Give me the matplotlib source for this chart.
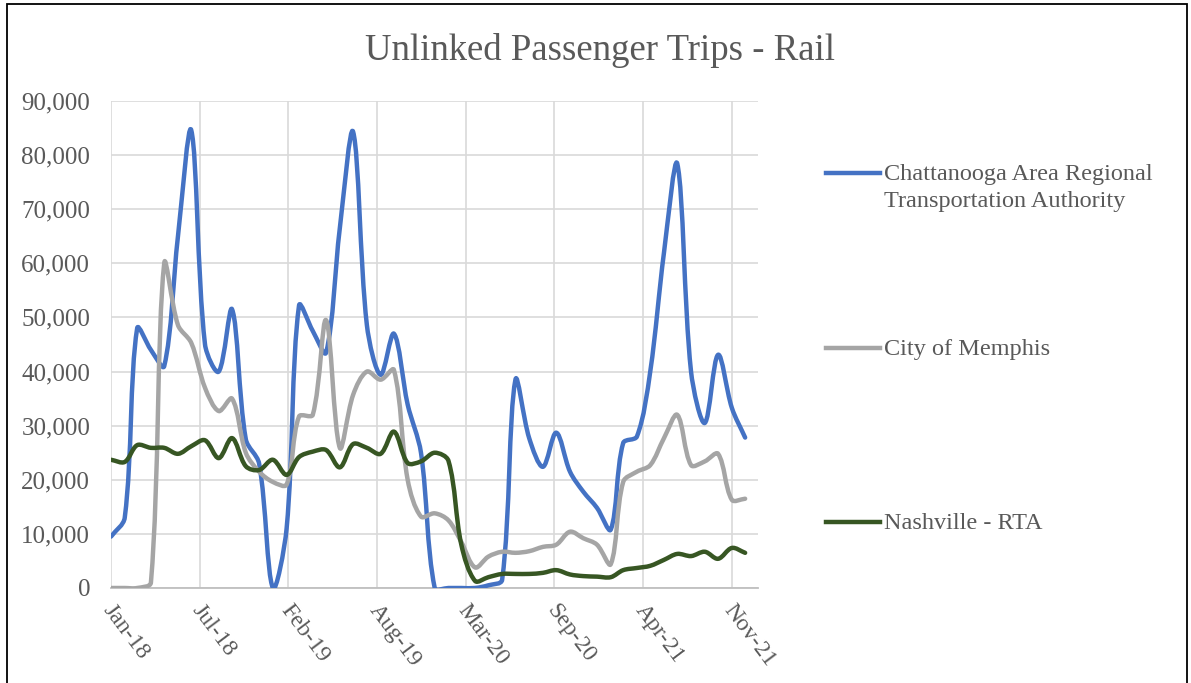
import matplotlib as mpl
mpl.use('Agg')
import matplotlib.pyplot as plt
import matplotlib.dates as mdates
from matplotlib.path import Path
from matplotlib.patches import PathPatch, Rectangle
from matplotlib.lines import Line2D
import numpy as np
import pandas as pd

# monthly unlinked passenger trips (thousands), Jan-18 .. Dec-21
months = pd.date_range('2018-01-01', '2021-12-01', freq='MS')

chattanooga = [9.5, 13, 48, 44, 41, 65, 84.6, 45, 40, 51.5, 27.5, 23,
               0, 11, 52.2, 47.5, 43.5, 66.5, 84.3, 48.6, 39.4, 47, 33.9, 25,
               0, 0, 0, 0, 0.5, 1.5, 38.5, 27.7, 22.4, 28.7, 21.5, 17.8,
               14.8, 10.8, 26.8, 28, 40, 62, 78.4, 40, 30.5, 43.1, 33.3, 27.8]
memphis = [0, 0, 0, 1, 60, 48.6, 45.3, 37, 32.7, 35, 25, 21.5,
           19.6, 19.1, 31.7, 32, 49.5, 25.9, 35.7, 40, 38.5, 40.3, 20, 13.2,
           13.8, 12.5, 8.5, 3.8, 5.8, 6.7, 6.5, 6.8, 7.6, 8, 10.4, 9.2,
           8, 4.4, 19.6, 21.5, 22.7, 27.7, 32, 22.7, 23.4, 24.8, 16.3, 16.5]
nashville = [23.7, 23.3, 26.4, 25.9, 25.9, 24.8, 26.2, 27.3, 24, 27.7, 22.5, 21.8,
             23.7, 20.9, 24.2, 25.2, 25.5, 22.3, 26.6, 25.9, 24.8, 28.9, 23.1, 23.4,
             25, 23.5, 8, 1.3, 2, 2.6, 2.6, 2.6, 2.8, 3.3, 2.5, 2.2,
             2.1, 2.0, 3.3, 3.7, 4.1, 5.2, 6.3, 5.9, 6.7, 5.4, 7.4, 6.5]

labels = ['Chattanooga Area Regional\nTransportation Authority',
          'City of Memphis', 'Nashville - RTA']
colors = ['#4472C4', '#A5A5A5', '#375623']
series = [chattanooga, memphis, nashville]

FONT = 'Liberation Serif'
TXT = '#595959'


def smooth_path(ax, xs, ys):
    # excel-like smoothed line, built in screen space so tangents
    # scale with the neighbouring segment lengths
    P = ax.transData.transform(np.column_stack([xs, ys]))
    n = len(P)
    verts = [P[0]]
    codes = [Path.MOVETO]
    for i in range(n - 1):
        p0, p1 = P[max(i - 1, 0)], P[i]
        p2, p3 = P[i + 1], P[min(i + 2, n - 1)]
        d01 = np.hypot(*(p1 - p0))
        d12 = np.hypot(*(p2 - p1))
        d23 = np.hypot(*(p3 - p2))
        t1 = p2 - p0
        t2 = p3 - p1
        s1 = d12 / (d01 + d12) if d01 + d12 > 0 else 0
        s2 = d12 / (d12 + d23) if d12 + d23 > 0 else 0
        c1 = p1 + t1 * s1 / 3
        c2 = p2 - t2 * s2 / 3
        verts += [c1, c2, p2]
        codes += [Path.CURVE4] * 3
    verts = ax.transData.inverted().transform(np.array(verts))
    return Path(verts, codes)


fig = plt.figure(figsize=(11.91, 6.83), dpi=100)
ax = fig.add_axes([111 / 1191, 1 - 588 / 683, 647 / 1191, 487 / 683])

x = mdates.date2num(months.to_pydatetime())
x0 = x[0]
ax.set_xlim(x0, x0 + 1459)
ax.set_ylim(0, 90000)

for vals, col in zip(series, colors):
    ys = [v * 1000 for v in vals]
    ax.add_patch(PathPatch(smooth_path(ax, x, ys), fill=False, ec=col, lw=3.2,
                           capstyle='round', joinstyle='round', zorder=3))

ax.set_xticks([x0 + 200 * k for k in range(8)])
ax.xaxis.set_major_formatter(mdates.DateFormatter('%b-%y'))
ax.set_yticks(range(0, 90001, 10000))
ax.yaxis.set_major_formatter(mpl.ticker.FuncFormatter(lambda v, p: f'{int(v):,}'))

ax.grid(True, color='#D9D9D9', lw=1.2)
ax.set_axisbelow(True)
for s in ['top', 'right', 'left']:
    ax.spines[s].set_visible(False)
ax.spines['bottom'].set_color('#BFBFBF')
ax.spines['bottom'].set_linewidth(1.3)
ax.tick_params(length=0)
ax.tick_params(axis='y', pad=15, labelsize=18, labelcolor=TXT)
ax.tick_params(axis='x', pad=9, labelsize=17, labelcolor=TXT)
for t in ax.get_yticklabels():
    t.set_fontfamily(FONT)
off = mpl.transforms.ScaledTranslation(-12 / 100, 0, fig.dpi_scale_trans)
for t in ax.get_xticklabels():
    t.set_fontfamily(FONT)
    t.set_rotation(-53)
    t.set_ha('left')
    t.set_va('top')
    t.set_transform(t.get_transform() + off)

fig.text(600 / 1191, 1 - 50 / 683, 'Unlinked Passenger Trips - Rail',
         ha='center', va='center', fontsize=26.5, color=TXT, family=FONT)

# legend drawn by hand to keep excel's wide spacing
for lab, col, yp in zip(labels, colors, [173, 348, 522]):
    yf = 1 - yp / 683
    fig.add_artist(Line2D([826 / 1191, 880 / 1191], [yf, yf], color=col, lw=3.2,
                          transform=fig.transFigure))
    fig.text(884 / 1191, yf + 9 / 683, lab, ha='left', va='top', fontsize=17.5,
             color=TXT, family=FONT, linespacing=1.35)

fig.add_artist(Rectangle((7 / 1191, -0.05), 1180 / 1191, 1.05 - 4 / 683,
                         transform=fig.transFigure, fill=False, ec='black', lw=1.3))

fig.savefig('out.png', dpi=100)
